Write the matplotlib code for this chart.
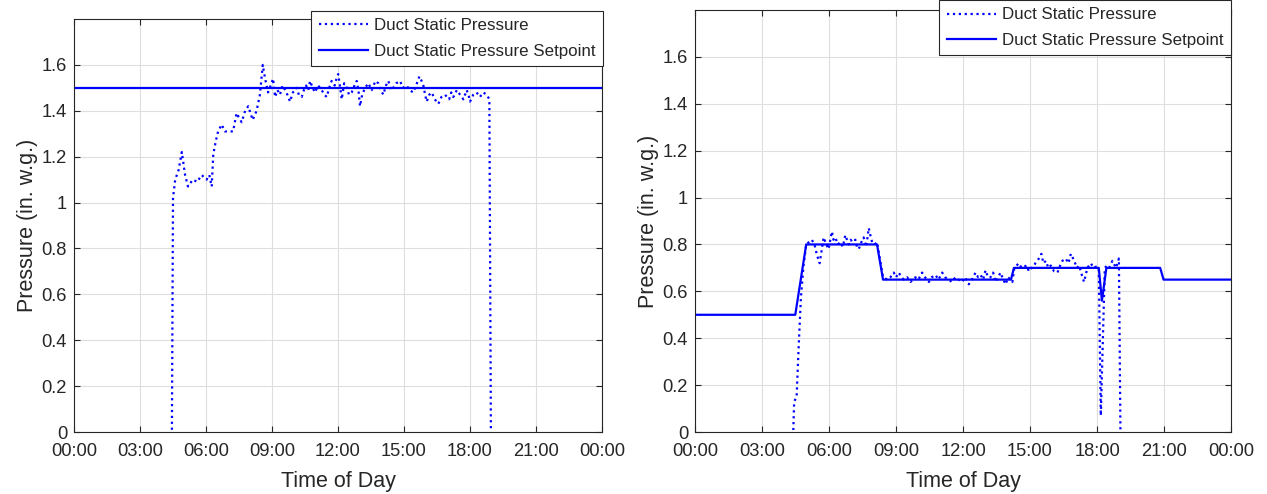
import matplotlib
matplotlib.use("Agg")
import matplotlib.pyplot as plt
from matplotlib.patches import Rectangle

plt.rcParams['font.family'] = ['Liberation Sans', 'DejaVu Sans']

# ---------------- data ----------------
xtick_hours = [0, 3, 6, 9, 12, 15, 18, 21, 24]
xtick_labels = ["00:00", "03:00", "06:00", "09:00", "12:00", "15:00", "18:00", "21:00", "00:00"]
ytick_values = [0, 0.2, 0.4, 0.6, 0.8, 1.0, 1.2, 1.4, 1.6]

# Left panel
t_left = [0, 4.45, 4.5, 4.6, 4.75, 4.9, 5.05, 5.18, 5.4, 5.6, 5.8, 6.03, 6.15, 6.26,
          6.33, 6.45, 6.55, 6.71, 6.86, 7.05, 7.23, 7.39, 7.5, 7.62, 7.78, 7.92, 8.12,
          8.3, 8.45, 8.58, 8.65, 8.73, 8.82, 8.9, 9.05, 9.14, 9.25, 9.36, 9.48, 9.6,
          9.7, 9.82, 9.95, 10.12, 10.22, 10.35, 10.45, 10.55, 10.65, 10.73, 10.85,
          10.95, 11.1, 11.26, 11.38, 11.49, 11.6, 11.71, 11.85, 11.93, 12.01, 12.1,
          12.17, 12.28, 12.4, 12.5, 12.62, 12.75, 12.85, 12.93, 13.0, 13.1, 13.23,
          13.38, 13.53, 13.62, 13.7, 13.83, 13.95, 14.06, 14.18, 14.29, 14.4, 14.51,
          14.65, 14.82, 14.95, 15.12, 15.25, 15.42, 15.55, 15.7, 15.8, 15.88, 15.96,
          16.03, 16.15, 16.26, 16.4, 16.56, 16.7, 16.86, 17.05, 17.15, 17.24, 17.4,
          17.55, 17.7, 17.85, 17.93, 18.0, 18.15, 18.3, 18.45, 18.6, 18.76, 18.88,
          18.95, 24]
p_left = [0, 0, 1.02, 1.10, 1.14, 1.22, 1.12, 1.07, 1.10, 1.09, 1.12, 1.10, 1.12, 1.07,
          1.21, 1.27, 1.31, 1.34, 1.31, 1.31, 1.31, 1.39, 1.37, 1.35, 1.40, 1.42, 1.36,
          1.40, 1.47, 1.60, 1.56, 1.52, 1.48, 1.50, 1.54, 1.46, 1.49, 1.47, 1.51, 1.49,
          1.47, 1.44, 1.48, 1.50, 1.47, 1.46, 1.49, 1.51, 1.49, 1.53, 1.50,
          1.48, 1.51, 1.49, 1.47, 1.46, 1.50, 1.53, 1.51, 1.54, 1.56, 1.50,
          1.45, 1.52, 1.50, 1.47, 1.48, 1.51, 1.53, 1.49, 1.42, 1.47, 1.50,
          1.52, 1.49, 1.51, 1.53, 1.52, 1.49, 1.47, 1.51, 1.53, 1.49, 1.50,
          1.52, 1.53, 1.50, 1.51, 1.49, 1.48, 1.51, 1.55, 1.53, 1.51, 1.47,
          1.44, 1.47, 1.48, 1.45, 1.43, 1.46, 1.47, 1.45, 1.48, 1.46, 1.49,
          1.47, 1.45, 1.49, 1.47, 1.44, 1.47, 1.48, 1.46, 1.48, 1.47, 1.45,
          0, 0]
t_sp_left = [0, 24]
sp_left = [1.5, 1.5]

# Right panel
t_right = [0, 4.4, 4.44, 4.55, 4.64, 4.74, 4.86, 4.98, 5.1, 5.23, 5.35, 5.46, 5.58, 5.68,
           5.76, 5.88, 5.98, 6.13, 6.2, 6.28, 6.4, 6.5, 6.62, 6.73, 6.88, 6.97, 7.05,
           7.18, 7.25, 7.33, 7.45, 7.55, 7.67, 7.78, 7.85, 7.93, 8.05, 8.15, 8.42, 8.6,
           8.75, 8.9, 9.0, 9.12, 9.25, 9.35, 9.5, 9.65, 9.75, 9.87, 10.0, 10.17, 10.3,
           10.47, 10.6, 10.77, 10.9, 11.07, 11.2, 11.36, 11.5, 11.66, 11.8, 11.96,
           12.1, 12.26, 12.4, 12.56, 12.68, 12.79, 12.9, 13.01, 13.12, 13.23, 13.35,
           13.46, 13.57, 13.68, 13.8, 13.91, 14.02, 14.13, 14.21, 14.3, 14.4, 14.5,
           14.62, 14.73, 14.85, 14.95, 15.07, 15.18, 15.3, 15.4, 15.51, 15.6, 15.71,
           15.82, 15.93, 16.08, 16.23, 16.35, 16.45, 16.6, 16.72, 16.83, 16.98, 17.1,
           17.2, 17.35, 17.42, 17.57, 17.72, 17.85, 17.95, 18.08, 18.17, 18.35, 18.45,
           18.54, 18.69, 18.85, 18.98, 19.05, 24]
p_right = [0, 0, 0.13, 0.15, 0.36, 0.57, 0.71, 0.80, 0.81, 0.82, 0.80, 0.755, 0.72, 0.78,
           0.83, 0.80, 0.78, 0.855, 0.82, 0.83, 0.80, 0.81, 0.79, 0.84, 0.80, 0.82, 0.81,
           0.82, 0.79, 0.78, 0.81, 0.83, 0.79, 0.87, 0.84, 0.81, 0.80, 0.81, 0.66, 0.65,
           0.66, 0.68, 0.66, 0.68, 0.66, 0.65, 0.66, 0.64, 0.65, 0.66, 0.65, 0.68, 0.66,
           0.64, 0.66, 0.67, 0.65, 0.68, 0.66, 0.65, 0.64, 0.66, 0.65, 0.64,
           0.66, 0.63, 0.65, 0.68, 0.66, 0.67, 0.65, 0.69, 0.66, 0.66, 0.68,
           0.64, 0.66, 0.68, 0.65, 0.63, 0.66, 0.65, 0.64, 0.70, 0.71, 0.72,
           0.70, 0.705, 0.71, 0.685, 0.70, 0.71, 0.73, 0.74, 0.76, 0.72, 0.73,
           0.70, 0.71, 0.685, 0.68, 0.71, 0.73, 0.74, 0.72, 0.76, 0.73, 0.70,
           0.71, 0.66, 0.64, 0.70, 0.72, 0.70, 0.705, 0.70, 0.07, 0.70, 0.71,
           0.70, 0.73, 0.70, 0.74, 0, 0]
t_sp_right = [0, 4.49, 4.98, 8.15, 8.42, 14.15, 14.28, 18.08, 18.22, 18.42, 20.83, 20.98, 24]
sp_right = [0.5, 0.5, 0.8, 0.8, 0.65, 0.65, 0.70, 0.70, 0.56, 0.70, 0.70, 0.65, 0.65]

series_names = ["Duct Static Pressure", "Duct Static Pressure Setpoint"]

# ---------------- figure ----------------
W, H = 1267, 494
fig = plt.figure(figsize=(W / 100, H / 100), dpi=100)
ax1 = fig.add_axes([74 / W, (H - 432) / H, 528 / W, 413 / H])
ax2 = fig.add_axes([695 / W, (H - 432) / H, 536 / W, 422 / H])

dark = (0.15, 0.15, 0.15)
blue = (0, 0, 1)

def style(ax, t, p, ts, sp, leg_anchor):
    l1, = ax.plot(t, p, linestyle=':', color=blue, linewidth=1.6, label=series_names[0])
    l2, = ax.plot(ts, sp, linestyle='-', color=blue, linewidth=1.6, label=series_names[1])
    for ln in (l1, l2):
        clip = Rectangle((0, 0.005), 1, 0.995, transform=ax.transAxes)
        ln.set_clip_path(clip)
    ax.set_xlim(0, 24)
    ax.set_ylim(0, 1.8)
    ax.set_xticks(xtick_hours)
    ax.set_xticklabels(xtick_labels)
    ax.set_yticks(ytick_values)
    ax.set_yticklabels(['%g' % v for v in ytick_values])
    ax.grid(True, color=(0.87, 0.87, 0.87), linewidth=0.8)
    ax.set_axisbelow(True)
    ax.tick_params(direction='in', top=True, right=True, length=4, width=0.8,
                   colors=dark, labelsize=13.2, labelcolor=dark)
    ax.tick_params(axis='x', pad=8)
    ax.tick_params(axis='y', pad=5)
    for s in ax.spines.values():
        s.set_color(dark)
        s.set_linewidth(0.8)
    ax.set_xlabel("Time of Day", fontsize=15.5, color=dark, labelpad=8)
    ax.set_ylabel("Pressure (in. w.g.)", fontsize=15.5, color=dark, labelpad=3)
    leg = ax.legend(loc='upper right', bbox_to_anchor=leg_anchor, fontsize=12.2,
                    frameon=True, fancybox=False, handlelength=2.9, borderpad=0.45,
                    labelspacing=0.6, handletextpad=0.35, borderaxespad=0)
    leg.get_frame().set_edgecolor(dark)
    leg.get_frame().set_linewidth(0.8)
    leg.get_frame().set_alpha(1)
    for txt in leg.get_texts():
        txt.set_color(dark)

style(ax1, t_left, p_left, t_sp_left, sp_left, (1.002, 1.02))
style(ax2, t_right, p_right, t_sp_right, sp_right, (1.0, 1.024))

fig.savefig("out.png", dpi=100)
